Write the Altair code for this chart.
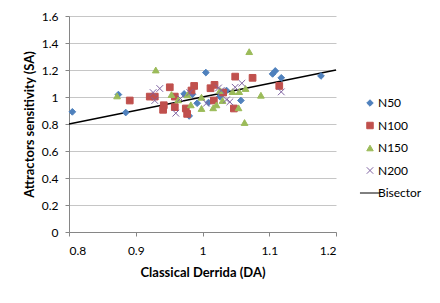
import altair as alt
import pandas as pd

n50_x = [0.805, 0.874, 0.885, 0.9725, 0.975, 0.98, 0.985, 0.992, 1.005, 1.009, 1.026, 1.031, 1.036, 1.0575, 1.105, 1.109, 1.118, 1.1775]
n50_y = [0.89, 1.018, 0.885, 1.023, 0.90, 0.86, 1.02, 0.954, 1.181, 0.959, 1.003, 1.028, 1.048, 0.974, 1.171, 1.193, 1.142, 1.156]

n100_x = [0.891, 0.921, 0.9285, 0.942, 0.941, 0.951, 0.9585, 0.9585, 0.975, 0.977, 0.9835, 0.9875, 1.012, 1.018, 1.017, 1.031, 1.047, 1.049, 1.075, 1.115]
n100_y = [0.974, 1.003, 1.003, 0.939, 0.905, 1.072, 1.003, 0.925, 0.915, 0.875, 1.048, 1.082, 1.065, 1.09, 0.974, 1.033, 0.915, 1.151, 1.142, 1.082]

n150_x = [0.872, 0.93, 0.9535, 0.9635, 0.9775, 0.9825, 0.9985, 0.9985, 1.016, 1.021, 1.03, 1.026, 1.045, 1.055, 1.054, 1.0645, 1.07, 1.063, 1.0875]
n150_y = [1.008, 1.20, 1.018, 0.979, 1.016, 0.942, 0.915, 0.998, 0.92, 0.942, 0.974, 1.048, 1.04, 1.04, 0.92, 1.063, 1.336, 0.811, 1.013]

n200_x = [0.926, 0.936, 0.9285, 0.96, 0.967, 0.981, 1.006, 1.024, 1.028, 1.036, 1.041, 1.049, 1.059, 1.118]
n200_y = [1.033, 1.063, 0.974, 0.88, 0.989, 1.033, 0.954, 1.067, 1.048, 0.979, 0.964, 1.072, 1.102, 1.038]

bisector_x = [0.8, 1.2]
bisector_y = [0.8, 1.2]

series_names = ["N50", "N100", "N150", "N200", "Bisector"]
fills = ["#4F81BD", "#C0504D", "#9BBB59", "transparent", "transparent"]
strokes = ["#4F81BD", "#C0504D", "#9BBB59", "#8064A2", "#000000"]
shapes = ["diamond", "square", "triangle-up", "M-1,-1L1,1M-1,1L1,-1", "M-3.1,0L3.1,0"]

rows = []
for name, xs, ys in [("N50", n50_x, n50_y), ("N100", n100_x, n100_y),
                     ("N150", n150_x, n150_y), ("N200", n200_x, n200_y)]:
    for a, b in zip(xs, ys):
        rows.append({"x": a, "y": b, "series": name})
pts = pd.DataFrame(rows)
line_df = pd.DataFrame({"x": bisector_x, "y": bisector_y})

FONT = "Lato"

xscale = alt.Scale(domain=[0.8, 1.2], nice=False)
yscale = alt.Scale(domain=[0, 1.6], nice=False)

xaxis = alt.Axis(values=[0.8, 0.9, 1.0, 1.1, 1.2], format=".1~f", grid=False,
                 title="Classical Derrida (DA)", tickSize=4, labelPadding=9,
                 titlePadding=10)
yaxis = alt.Axis(values=[0, 0.2, 0.4, 0.6, 0.8, 1.0, 1.2, 1.4, 1.6], format=".1~f",
                 grid=True, title="Attractors sensitivity (SA)", tickSize=4,
                 labelPadding=7, titlePadding=5)

line = alt.Chart(line_df).mark_line(color="black", strokeWidth=1.5).encode(
    x=alt.X("x:Q", scale=xscale, axis=xaxis),
    y=alt.Y("y:Q", scale=yscale, axis=yaxis),
)

points = alt.Chart(pts).mark_point(filled=True, size=45, opacity=1, strokeWidth=1).encode(
    x=alt.X("x:Q", scale=xscale, axis=xaxis),
    y=alt.Y("y:Q", scale=yscale, axis=yaxis),
    fill=alt.Fill("series:N", scale=alt.Scale(domain=series_names, range=fills),
                  legend=alt.Legend(title=None)),
    stroke=alt.Stroke("series:N", scale=alt.Scale(domain=series_names, range=strokes),
                      legend=alt.Legend(title=None)),
    shape=alt.Shape("series:N", scale=alt.Scale(domain=series_names, range=shapes),
                    legend=alt.Legend(title=None)),
)

chart = alt.layer(line, points).properties(
    width=267, height=216,
    autosize=alt.AutoSizeParams(type="none"),
    padding={"left": 61, "top": 8, "right": 90, "bottom": 60},
).configure_view(stroke=None).configure_axis(
    labelFont=FONT, titleFont=FONT, labelFontSize=12, titleFontSize=13,
    titleFontWeight="bold", labelColor="#000000", titleColor="#000000",
    domainColor="#868686", tickColor="#868686", gridColor="#c6c6c6",
).configure_legend(
    orient="none", legendX=295, legendY=81, labelFont=FONT, labelFontSize=12,
    labelColor="#000000", symbolSize=42, rowPadding=10.5, symbolStrokeWidth=1,
    labelOffset=2,
)

chart.save("out.html", embed_options={"renderer": "svg", "actions": False})
